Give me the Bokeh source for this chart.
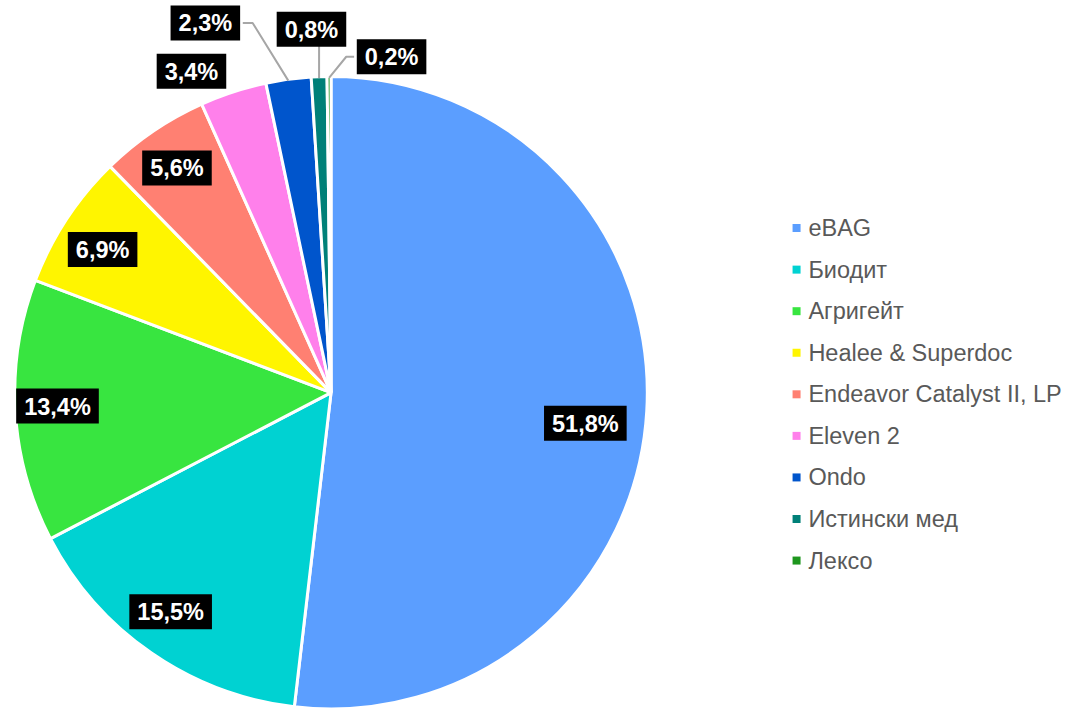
import numpy as np
from bokeh.plotting import figure
from bokeh.models import Range1d, ColumnDataSource
from bokeh.embed import file_html
from bokeh.resources import INLINE
from bokeh.core.properties import value

# ---- data ----
names = ["eBAG", "Биодит", "Агригейт", "Healee & Superdoc",
         "Endeavor Catalyst II, LP", "Eleven 2", "Ondo", "Истински мед", "Лексо"]
shares = [51.8, 15.5, 13.4, 6.9, 5.6, 3.4, 2.3, 0.8, 0.2]
pct_labels = ["51,8%", "15,5%", "13,4%", "6,9%", "5,6%", "3,4%", "2,3%", "0,8%", "0,2%"]
colors = ["#5B9EFF", "#00D2D2", "#38E540", "#FFF500", "#FF8072",
          "#FF80EB", "#0055CC", "#008078", "#1E961E"]

# ---- layout / style ----
W, H = 1067, 709
REF_W, REF_H = 1083, 725
cx, cy = 335.5, REF_H - 401.0
R = 321.0
label_r_frac = [0.81, 0.863, 0.866, 0.854, 0.866, 1.115, 1.243, 1.159, 1.087]
label_shift_deg = [3.6, 1.4, 0.5, -1.0, 0.0, -5.3, -10.9, -0.9, 10.5]
leader = [None, None, None, None, None, None, "right", "down", "left"]

vals = np.array(shares, dtype=float)
frac = vals / vals.sum()
cum_end = np.cumsum(frac)
cum_start = cum_end - frac
mid = (cum_start + cum_end) / 2 * 360.0  # clockwise from top, degrees

start_angle = np.radians(90.0 - cum_end * 360.0)
end_angle = np.radians(90.0 - cum_start * 360.0)

src = ColumnDataSource(dict(start=start_angle, end=end_angle, color=colors, name=names))

p = figure(width=W, height=H, x_range=Range1d(0, REF_W), y_range=Range1d(0, REF_H),
           output_backend="svg", toolbar_location=None, min_border=0)
p.axis.visible = False
p.grid.visible = False
p.outline_line_color = None
p.background_fill_color = "white"
p.border_fill_color = "white"

p.wedge(x=cx, y=cy, radius=R, start_angle="start", end_angle="end",
        fill_color="color", line_color="white", line_width=3, source=src)

# label positions
lx, ly = [], []
for i in range(len(shares)):
    th = np.radians(mid[i] + label_shift_deg[i])
    r = label_r_frac[i] * R
    lx.append(cx + r * np.sin(th))
    ly.append(cy + r * np.cos(th))

# leader lines
half_w, half_h = 36, 17
for i, kind in enumerate(leader):
    if kind is None:
        continue
    th = np.radians(mid[i])
    ex, ey = cx + (R + 1) * np.sin(th), cy + (R + 1) * np.cos(th)
    if kind == "right":
        end = (lx[i] + half_w + 2, ly[i])
        elbow = (end[0] + 10, ly[i])
        xs, ys = [ex, elbow[0], end[0]], [ey, elbow[1], end[1]]
    elif kind == "left":
        end = (lx[i] - half_w - 2, ly[i])
        elbow = (end[0] - 8, ly[i])
        xs, ys = [ex, elbow[0], end[0]], [ey, elbow[1], end[1]]
    else:
        xs, ys = [ex, ex], [ey, ly[i] - half_h + 1]
    p.line(xs, ys, line_color="#A6A6A6", line_width=2)

lab_src = ColumnDataSource(dict(x=lx, y=ly, text=pct_labels))
p.text(x="x", y="y", text="text", source=lab_src, text_color="white",
       text_font=value("Liberation Sans"), text_font_style="bold",
       text_font_size="23.5px", text_align="center", text_baseline="middle",
       background_fill_color="black",
       padding=dict(left=8, right=8, top=5, bottom=4))

# legend
leg_y = [REF_H - (232.7 + i * 42.5) for i in range(len(names))]
leg_src = ColumnDataSource(dict(y=leg_y, name=names, color=colors))
p.scatter(x=808, y="y", marker="square", size=8, fill_color="color",
          line_color=None, source=leg_src)
p.text(x=820, y="y", text="name", source=leg_src, text_color="#595959",
       text_font=value("Liberation Sans"), text_font_size="23.5px",
       text_align="left", text_baseline="middle")

open("out.html", "w").write(file_html(p, INLINE))
